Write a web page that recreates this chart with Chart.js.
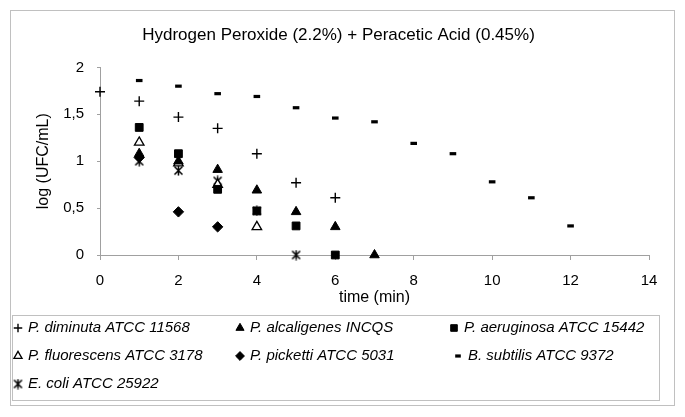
<!DOCTYPE html>
<html>
<head>
<meta charset="utf-8">
<script src="https://cdn.jsdelivr.net/npm/chart.js@4.4.1/dist/chart.umd.min.js"></script>
<style>
  html, body { margin: 0; padding: 0; background: #fff; }
  #wrap { width: 685px; height: 417px; position: relative; }
</style>
</head>
<body>
<div id="wrap"><canvas id="chart"></canvas></div>
<script>
// time (min) and log (UFC/mL)
const diminutaT = [0, 1, 2, 3, 4, 5, 6];
const diminutaY = [1.74, 1.64, 1.47, 1.35, 1.08, 0.77, 0.61];

const alcaligenesT = [1, 2, 3, 4, 5, 6, 7];
const alcaligenesY = [1.08, 1.0, 0.91, 0.69, 0.46, 0.30, 0];

const aeruginosaT = [1, 2, 3, 4, 5, 6];
const aeruginosaY = [1.36, 1.08, 0.70, 0.47, 0.31, 0];

const fluorescensT = [1, 2, 3, 4];
const fluorescensY = [1.20, 0.98, 0.75, 0.30];

const pickettiT = [1, 2, 3];
const pickettiY = [1.04, 0.46, 0.30];

const subtilisT = [1, 2, 3, 4, 5, 6, 7, 8, 9, 10, 11, 12];
const subtilisY = [1.86, 1.80, 1.72, 1.69, 1.57, 1.46, 1.42, 1.19, 1.08, 0.78, 0.61, 0.31];

const coliT = [1, 2, 3, 4, 5];
const coliY = [1.0, 0.90, 0.79, 0.47, 0];

const xTicks = [0, 2, 4, 6, 8, 10, 12, 14];
const yTicks = [0, 0.5, 1, 1.5, 2];

const toPoints = (xs, ys) => xs.map((x, i) => ({ x: x, y: ys[i] }));

// asterisk marker (x with a vertical bar)
function makeAsterisk() {
    const c = document.createElement('canvas');
    c.width = 11; c.height = 11;
    const g = c.getContext('2d');
    g.strokeStyle = '#000';
    g.lineWidth = 1.5;
    g.beginPath();
    g.moveTo(1.5, 1.5); g.lineTo(9.5, 9.5);
    g.moveTo(9.5, 1.5); g.lineTo(1.5, 9.5);
    g.moveTo(5.5, 0.5); g.lineTo(5.5, 10.5);
    g.stroke();
    return c;
}
const asterisk = makeAsterisk();

const series = [
    { label: 'P. diminuta ATCC 11568', data: toPoints(diminutaT, diminutaY),
      pointStyle: 'cross', radius: 5, borderWidth: 1.4, bg: '#000' },
    { label: 'P. alcaligenes INCQS', data: toPoints(alcaligenesT, alcaligenesY),
      pointStyle: 'triangle', radius: 5.5, borderWidth: 1, bg: '#000' },
    { label: 'P. aeruginosa ATCC 15442', data: toPoints(aeruginosaT, aeruginosaY),
      pointStyle: 'rect', radius: 5.5, borderWidth: 1, bg: '#000' },
    { label: 'P. fluorescens ATCC 3178', data: toPoints(fluorescensT, fluorescensY),
      pointStyle: 'triangle', radius: 5.5, borderWidth: 1.3, bg: '#fff' },
    { label: 'P. picketti ATCC 5031', data: toPoints(pickettiT, pickettiY),
      pointStyle: 'rectRot', radius: 5.2, borderWidth: 1, bg: '#000' },
    { label: 'B. subtilis ATCC 9372', data: toPoints(subtilisT, subtilisY),
      pointStyle: 'line', radius: 3.3, borderWidth: 3.2, bg: '#000' },
    { label: 'E. coli ATCC 25922', data: toPoints(coliT, coliY),
      pointStyle: asterisk, radius: 5, borderWidth: 1, bg: '#000' }
];

// legend slots: [x of marker, y of row]
const legendSlots = [
    [18, 328], [240, 328], [454, 328],
    [18, 356], [240, 356], [458, 356],
    [18, 384]
];

const framePlugin = {
    id: 'frame',
    beforeDraw(chart) {
        const ctx = chart.ctx;
        ctx.save();
        ctx.fillStyle = '#fff';
        ctx.fillRect(0, 0, chart.width, chart.height);
        ctx.strokeStyle = '#c0c0c0';
        ctx.lineWidth = 1;
        ctx.strokeRect(10.5, 10.5, 664, 395);
        ctx.strokeRect(12.5, 315.5, 647, 85);
        ctx.restore();
    },
    afterDraw(chart) {
        const ctx = chart.ctx;
        ctx.save();
        ctx.font = 'italic 15px "Liberation Sans", Arial, sans-serif';
        ctx.textBaseline = 'middle';
        series.forEach((s, i) => {
            const [x, y] = legendSlots[i];
            ctx.fillStyle = s.bg;
            ctx.strokeStyle = '#000';
            ctx.lineWidth = s.borderWidth;
            Chart.helpers.drawPoint(ctx, {
                pointStyle: s.pointStyle,
                radius: s.radius * 0.85,
                borderWidth: s.borderWidth,
                rotation: 0
            }, x, y);
            ctx.fillStyle = '#000';
            ctx.fillText(s.label, x + 10, y);
        });
        ctx.restore();
    }
};

new Chart(document.getElementById('chart'), {
    type: 'scatter',
    data: {
        datasets: series.map(s => ({
            label: s.label,
            data: s.data,
            pointStyle: s.pointStyle,
            pointRadius: s.radius,
            pointHoverRadius: s.radius,
            pointBorderWidth: s.borderWidth,
            borderColor: '#000',
            backgroundColor: s.bg,
            showLine: false,
            clip: false
        }))
    },
    options: {
        responsive: true,
        maintainAspectRatio: false,
        animation: false,
        layout: { padding: { left: 28, right: 36, top: 12, bottom: 110 } },
        plugins: {
            legend: { display: false },
            tooltip: { enabled: false },
            title: {
                display: true,
                text: 'Hydrogen Peroxide (2.2%) + Peracetic Acid (0.45%)',
                color: '#000',
                font: { family: '"Liberation Sans", Arial, sans-serif', size: 17, weight: 'normal' },
                padding: { top: 13, bottom: 22 }
            }
        },
        scales: {
            x: {
                type: 'linear',
                min: 0, max: 14,
                afterBuildTicks: axis => { axis.ticks = xTicks.map(v => ({ value: v })); },
                afterFit: axis => { axis.height = 52; },
                grid: { drawOnChartArea: false, drawTicks: true, tickLength: 5, color: '#a0a0a0' },
                border: { display: true, color: '#a0a0a0' },
                ticks: {
                    color: '#000', padding: 12,
                    font: { family: '"Liberation Sans", Arial, sans-serif', size: 15 }
                },
                title: {
                    display: true, text: 'time (min)', color: '#000',
                    font: { family: '"Liberation Sans", Arial, sans-serif', size: 16 },
                    padding: { top: 0, bottom: 0 }
                }
            },
            y: {
                type: 'linear',
                min: 0, max: 2,
                afterBuildTicks: axis => { axis.ticks = yTicks.map(v => ({ value: v })); },
                afterFit: axis => { axis.width = 72; },
                grid: { drawOnChartArea: false, drawTicks: true, tickLength: 3, color: '#a0a0a0' },
                border: { display: true, color: '#a0a0a0' },
                ticks: {
                    color: '#000', padding: 13,
                    font: { family: '"Liberation Sans", Arial, sans-serif', size: 15 },
                    callback: v => String(v).replace('.', ',')
                },
                title: {
                    display: true, text: 'log (UFC/mL)', color: '#000',
                    font: { family: '"Liberation Sans", Arial, sans-serif', size: 16 },
                    padding: { top: 6, bottom: 0 }
                }
            }
        }
    },
    plugins: [framePlugin]
});
</script>
</body>
</html>
